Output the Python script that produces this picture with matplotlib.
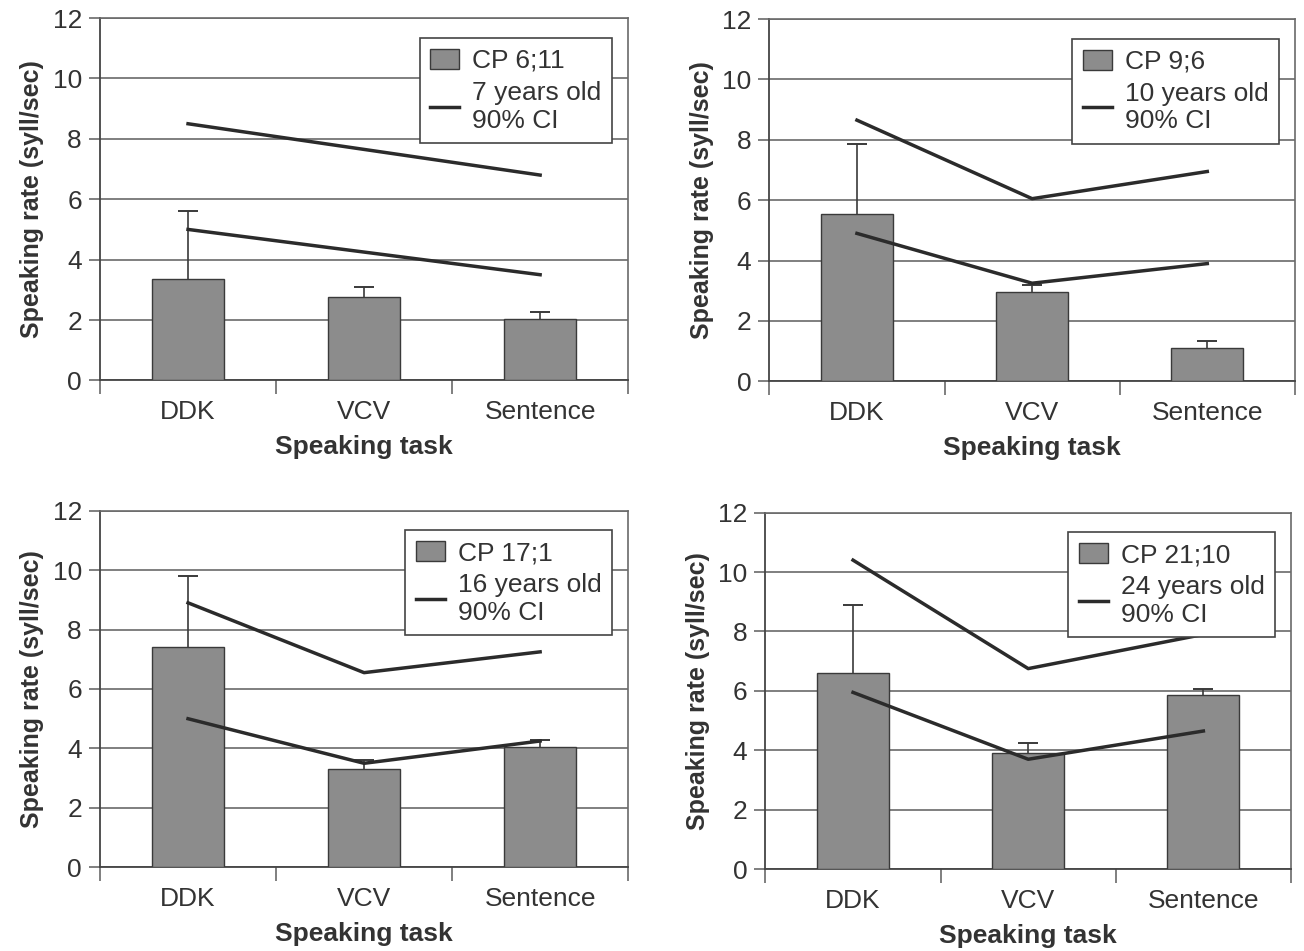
import numpy as np
import matplotlib
matplotlib.use('Agg')
import matplotlib.pyplot as plt
from matplotlib.patches import Patch
from matplotlib.lines import Line2D

plt.rcParams['font.family'] = ['Liberation Sans', 'DejaVu Sans']

tasks = ['DDK', 'VCV', 'Sentence']

# CP speaker means and upper error bar tops
cp_labels = ['CP 6;11', 'CP 9;6', 'CP 17;1', 'CP 21;10']
cp_means = [[3.35, 2.75, 2.05],
            [5.55, 2.95, 1.10],
            [7.40, 3.30, 4.05],
            [6.60, 3.90, 5.85]]
cp_err_top = [[5.60, 3.10, 2.25],
              [7.85, 3.20, 1.32],
              [9.80, 3.60, 4.30],
              [8.90, 4.25, 6.05]]

# normative 90% CI bounds
norm_labels = ['7 years old', '10 years old', '16 years old', '24 years old']
ci_upper = [[8.50, 7.65, 6.80],
            [8.65, 6.05, 6.95],
            [8.90, 6.55, 7.25],
            [10.40, 6.75, 7.90]]
ci_lower = [[5.00, 4.25, 3.50],
            [4.90, 3.25, 3.90],
            [5.00, 3.50, 4.25],
            [5.95, 3.70, 4.65]]

fig = plt.figure(figsize=(13.04, 9.51), dpi=100)
positions = [[0.0767, 0.600, 0.405, 0.381],
             [0.590, 0.599, 0.403, 0.381],
             [0.0767, 0.088, 0.405, 0.375],
             [0.587, 0.086, 0.403, 0.375]]

bar_col = '#8c8c8c'
line_col = '#2b2b2b'
grid_col = '#6a6a6a'
txt_col = '#333333'

x = np.arange(len(tasks))
for i in range(4):
    ax = fig.add_axes(positions[i])
    means = np.array(cp_means[i])
    tops = np.array(cp_err_top[i])
    ax.bar(x, means, width=0.41, color=bar_col, edgecolor='#3a3a3a', linewidth=1.0, zorder=3)
    # upper-only error bars: stem plus cap
    ax.vlines(x, means, tops, color='#3a3a3a', lw=1.2, zorder=4)
    ax.plot(x, tops, ls='none', marker='_', markersize=14, mew=1.4, color='#3a3a3a', zorder=4)
    ax.plot(x, ci_upper[i], color=line_col, lw=2.5, zorder=5)
    ax.plot(x, ci_lower[i], color=line_col, lw=2.5, zorder=5)

    ax.set_xlim(-0.5, 2.5)
    ax.set_ylim(0, 12)
    ax.set_yticks(range(0, 13, 2))
    ax.yaxis.grid(True, color=grid_col, lw=1.2, zorder=0)
    ax.set_xticks(x)
    ax.set_xticklabels(tasks, fontsize=19, color=txt_col)
    ax.set_xticks([-0.5, 0.5, 1.5, 2.5], minor=True)
    ax.tick_params(axis='x', which='major', length=0, pad=14)
    ax.tick_params(axis='x', which='minor', length=10, width=1.2, color=grid_col)
    ax.tick_params(axis='y', labelsize=19, labelcolor=txt_col, length=8, width=1.2, color=grid_col, pad=5)
    for s in ['top', 'right']:
        ax.spines[s].set_color(grid_col)
        ax.spines[s].set_linewidth(1.2)
    ax.spines['left'].set_color('#444444')
    ax.spines['bottom'].set_color('#444444')
    ax.spines['left'].set_linewidth(1.3)
    ax.spines['bottom'].set_linewidth(1.3)
    ax.set_xlabel('Speaking task', fontsize=19, fontweight='bold', color=txt_col, labelpad=8)
    ax.set_ylabel('Speaking rate (syll/sec)', fontsize=18, fontweight='bold', color=txt_col, labelpad=6)

    handles = [Patch(facecolor=bar_col, edgecolor='#3a3a3a'),
               Line2D([0], [0], color=line_col, lw=2.5)]
    leg = ax.legend(handles, [cp_labels[i], norm_labels[i] + '\n90% CI'],
                    loc='upper right', bbox_to_anchor=(0.97, 0.945), borderaxespad=0,
                    fontsize=19, frameon=True, fancybox=False, edgecolor='#444444',
                    framealpha=1, handlelength=1.1, handleheight=0.8, handletextpad=0.5,
                    borderpad=0.4, labelspacing=0.3)
    leg.get_frame().set_linewidth(1.2)
    for t in leg.get_texts():
        t.set_color(txt_col)
    leg.set_zorder(6)

fig.savefig('out.png', dpi=100, facecolor='white')
